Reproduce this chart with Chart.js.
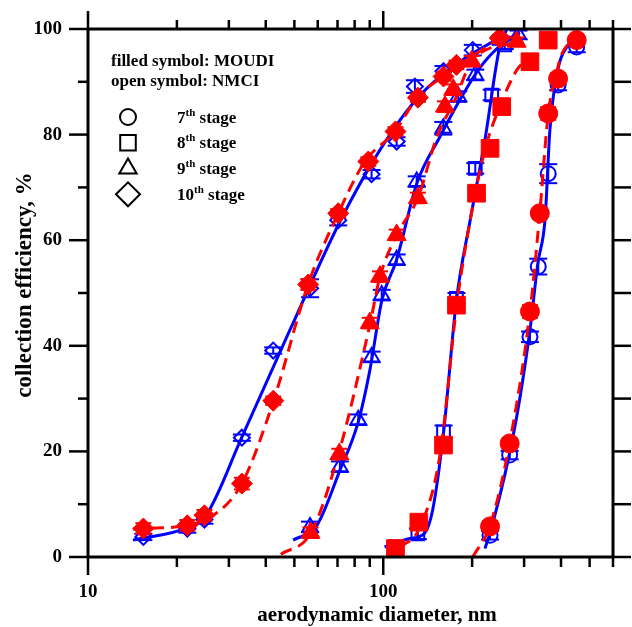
<!DOCTYPE html>
<html>
<head>
<meta charset="utf-8">
<script src="https://cdn.jsdelivr.net/npm/chart.js@4.4.0/dist/chart.umd.min.js"></script>
<style>
  html, body { margin: 0; padding: 0; background: #fff; }
</style>
</head>
<body>
<canvas id="c" width="632" height="627"></canvas>
<script>
// axis ticks (values) and which ones get a label / long tick
const xTicks = [10, 20, 30, 40, 50, 60, 70, 80, 90, 100, 200, 300, 400, 500, 600];
const xLabels = [10, 100];
const yTicks = [0, 10, 20, 30, 40, 50, 60, 70, 80, 90, 100];
const yLabels = [0, 20, 40, 60, 80, 100];

// 7th stage
const s7_nmci_x = [230, 268, 314, 335, 362, 391, 452];
const s7_nmci_y = [4.1, 19.3, 41.7, 55.0, 72.6, 89.4, 96.6];
const s7_nmci_err = [0.8, 0.8, 1.0, 1.5, 1.8, 1.0, 1.0];
const s7_moudi_x = [230, 268, 314, 339, 362, 391, 452];
const s7_moudi_y = [5.8, 21.5, 46.5, 65.1, 84.0, 90.6, 97.9];
const s7_moudi_err = [1.0, 1.0, 1.2, 1.0, 1.2, 1.0, 0.8];
const s7_nmci_fit_x = [221, 233, 279, 314, 334, 353, 367, 391, 419, 453];
const s7_nmci_fit_y = [1.6, 5.6, 24.6, 43.0, 55.7, 63.8, 81.1, 92.5, 96.6, 97.9];
const s7_moudi_fit_x = [201, 230, 268, 314, 339, 362, 382, 403, 436];
const s7_moudi_fit_y = [0, 6.0, 21.6, 46.4, 65.2, 83.9, 90.6, 95.3, 97.9];

// 8th stage
const s8_nmci_x = [110, 131, 160, 177, 205, 233, 258];
const s8_nmci_y = [1.9, 4.4, 23.7, 49.0, 73.6, 87.5, 97.0];
const s8_nmci_err = [0.8, 1.0, 1.2, 1.0, 1.0, 1.0, 0.8];
const s8_moudi_x = [110, 132, 160, 177, 207, 230, 252, 314, 362];
const s8_moudi_y = [1.6, 6.6, 21.2, 47.7, 68.9, 77.4, 85.3, 93.8, 97.9];
const s8_moudi_err = [0.6, 0.8, 1.0, 1.0, 1.0, 0.8, 0.8, 0.8, 0.6];
const s8_nmci_fit_x = [101, 123, 138, 147, 160, 177, 197, 221, 248, 262];
const s8_nmci_fit_y = [1.9, 3.5, 4.5, 8.9, 23.5, 48.7, 63.8, 79.0, 96.6, 99.9];
const s8_moudi_fit_x = [114, 133, 156, 177, 197, 221, 248, 284, 314];
const s8_moudi_fit_y = [1.8, 5.6, 19.7, 47.3, 63.8, 77.1, 85.3, 92.3, 94.6];

// 9th stage
const s9_nmci_x = [56.5, 71.3, 82.3, 91.3, 98.8, 111, 129.8, 159.7, 179.5, 205, 287];
const s9_nmci_y = [5.7, 17.1, 26.0, 37.9, 49.6, 56.3, 71.1, 81.2, 87.2, 91.3, 98.9];
const s9_nmci_err = [1.0, 1.0, 1.0, 1.0, 1.0, 1.0, 1.0, 1.2, 1.0, 1.0, 0.8];
const s9_moudi_x = [56.7, 71.0, 90.0, 97.5, 111, 131, 161.8, 172.6, 199.3, 283];
const s9_moudi_y = [4.6, 19.5, 44.3, 53.1, 61.0, 68.0, 85.3, 88.5, 93.9, 97.6];
const s9_moudi_err = [1.0, 1.0, 1.0, 1.0, 1.0, 1.0, 1.0, 1.0, 1.0, 0.8];
const s9_nmci_fit_x = [49.5, 59.6, 71.3, 82.2, 90.1, 99.0, 111, 130, 155.6, 181.9, 212.6, 258.3, 290.4];
const s9_nmci_fit_y = [3.2, 6.0, 16.4, 25.5, 35.4, 48.7, 56.3, 70.8, 79.6, 86.6, 92.7, 97.6, 99.3];
const s9_moudi_fit_x = [45.0, 56.9, 70.7, 90.0, 97.5, 111, 131, 152, 175, 199.3, 282.9];
const s9_moudi_fit_y = [0.5, 4.6, 19.7, 43.9, 53.1, 61.0, 68.0, 79.6, 86.6, 93.8, 97.6];

// 10th stage
const s10_nmci_x = [15.4, 21.7, 24.8, 33.2, 42.4, 56.5, 70.4, 91.3, 111, 128, 160, 201, 250];
const s10_nmci_y = [3.8, 5.4, 7.1, 22.6, 39.1, 50.9, 63.8, 72.5, 78.7, 89.1, 92.0, 96.0, 97.8];
const s10_nmci_err = [0.6, 0.8, 0.8, 0.6, 0.6, 1.7, 1.0, 0.8, 0.8, 1.2, 1.0, 1.0, 0.8];
const s10_moudi_x = [15.4, 21.7, 24.8, 33.2, 42.4, 55.7, 70.4, 89, 110, 131, 160, 177, 248];
const s10_moudi_y = [5.4, 6.0, 7.9, 13.9, 29.6, 51.6, 65.1, 74.9, 80.6, 87.0, 91.0, 93.2, 98.3];
const s10_moudi_err = [1.0, 1.0, 1.0, 1.1, 0.8, 1.0, 0.8, 0.8, 0.8, 0.8, 0.8, 0.8, 0.6];
const s10_nmci_fit_x = [14.2, 21.8, 25.1, 33.2, 48.3, 71.3, 97.5, 132, 182, 258];
const s10_nmci_fit_y = [3.2, 5.6, 7.9, 22.7, 43.0, 63.5, 77.1, 87.2, 93.8, 98.9];
const s10_moudi_fit_x = [14.2, 15.4, 21.6, 26.6, 33.2, 42.4, 55.7, 70.0, 86.7, 109.5, 131, 159.4, 182, 248];
const s10_moudi_fit_y = [5.3, 5.4, 6.0, 7.9, 13.9, 29.4, 51.7, 64.8, 74.9, 80.6, 87.2, 91.0, 93.3, 98.3];

const BLUE = "#0000ff";
const RED = "#ff0000";
const SERIF = '"Liberation Serif", "Times New Roman", serif';

function pts(xs, ys) {
	return xs.map((x, i) => ({ x: x, y: ys[i] }));
}

function markerSet(xs, ys, err, style, r, filled) {
	return {
		data: pts(xs, ys),
		errors: err,
		showLine: false,
		pointStyle: style,
		pointRadius: r,
		pointBorderWidth: filled ? 1 : 2,
		pointBorderColor: filled ? RED : BLUE,
		pointBackgroundColor: filled ? RED : "rgba(0,0,0,0)",
		errColor: filled ? RED : BLUE,
		errCap: filled ? 8 : 9,
	};
}

function fitSet(xs, ys, filled) {
	return {
		data: pts(xs, ys),
		showLine: true,
		pointRadius: 0,
		borderColor: filled ? RED : BLUE,
		borderWidth: 3,
		borderDash: filled ? [12, 7] : [],
		cubicInterpolationMode: "monotone",
	};
}

// first dataset is painted last (on top)
const datasets = [
	markerSet(s7_moudi_x, s7_moudi_y, s7_moudi_err, "circle", 9.5, true),
	markerSet(s8_moudi_x, s8_moudi_y, s8_moudi_err, "rect", 12.5, true),
	markerSet(s9_moudi_x, s9_moudi_y, s9_moudi_err, "triangle", 11, true),
	markerSet(s10_moudi_x, s10_moudi_y, s10_moudi_err, "rectRot", 10.5, true),
	fitSet(s7_moudi_fit_x, s7_moudi_fit_y, true),
	fitSet(s8_moudi_fit_x, s8_moudi_fit_y, true),
	fitSet(s9_moudi_fit_x, s9_moudi_fit_y, true),
	fitSet(s10_moudi_fit_x, s10_moudi_fit_y, true),
	markerSet(s7_nmci_x, s7_nmci_y, s7_nmci_err, "circle", 7.5, false),
	markerSet(s8_nmci_x, s8_nmci_y, s8_nmci_err, "rect", 9, false),
	markerSet(s9_nmci_x, s9_nmci_y, s9_nmci_err, "triangle", 9, false),
	markerSet(s10_nmci_x, s10_nmci_y, s10_nmci_err, "rectRot", 8, false),
	fitSet(s7_nmci_fit_x, s7_nmci_fit_y, false),
	fitSet(s8_nmci_fit_x, s8_nmci_fit_y, false),
	fitSet(s9_nmci_fit_x, s9_nmci_fit_y, false),
	fitSet(s10_nmci_fit_x, s10_nmci_fit_y, false),
];

function line(ctx, x1, y1, x2, y2) {
	ctx.beginPath();
	ctx.moveTo(x1, y1);
	ctx.lineTo(x2, y2);
	ctx.stroke();
}

const decor = {
	id: "decor",
	afterDatasetDraw(chart, args) {
		const ds = chart.data.datasets[args.index];
		if (!ds.errors) return;
		const ctx = chart.ctx;
		const y = chart.scales.y;
		ctx.save();
		ctx.strokeStyle = ds.errColor;
		ctx.lineWidth = 2;
		args.meta.data.forEach((p, i) => {
			const v = ds.data[i].y;
			const e = ds.errors[i];
			const top = y.getPixelForValue(v + e);
			const bot = y.getPixelForValue(v - e);
			line(ctx, p.x, top, p.x, bot);
			line(ctx, p.x - ds.errCap, top, p.x + ds.errCap, top);
			line(ctx, p.x - ds.errCap, bot, p.x + ds.errCap, bot);
		});
		ctx.restore();
	},
	afterDraw(chart) {
		const ctx = chart.ctx;
		const a = chart.chartArea;
		const xs = chart.scales.x;
		const ys = chart.scales.y;
		ctx.save();
		ctx.strokeStyle = "#000";
		ctx.lineWidth = 3;
		ctx.strokeRect(a.left, a.top, a.right - a.left, a.bottom - a.top);
		ctx.lineWidth = 2.5;
		xs.ticks.forEach((t) => {
			const px = xs.getPixelForValue(t.value);
			const big = xLabels.includes(t.value);
			line(ctx, px, a.bottom, px, a.bottom + (big ? 18 : 10));
			line(ctx, px, a.top, px, a.top - (big ? 18 : 9));
		});
		ys.ticks.forEach((t) => {
			const py = ys.getPixelForValue(t.value);
			const big = yLabels.includes(t.value);
			line(ctx, a.left - (big ? 19 : 10), py, a.left, py);
			line(ctx, a.right, py, a.right + 18, py);
		});

		// axis titles
		ctx.fillStyle = "#000";
		ctx.font = "bold 21px " + SERIF;
		ctx.textAlign = "center";
		ctx.textBaseline = "alphabetic";
		ctx.fillText("aerodynamic diameter, nm", 377, 621);
		ctx.save();
		ctx.translate(31, 285);
		ctx.rotate(-Math.PI / 2);
		ctx.font = "bold 23px " + SERIF;
		ctx.fillText("collection efficiency, %", 0, 0);
		ctx.restore();

		// legend
		ctx.textAlign = "left";
		ctx.font = "bold 17px " + SERIF;
		ctx.fillText("filled symbol: MOUDI", 111, 66);
		ctx.fillText("open symbol: NMCI", 111, 86);
		const rows = [
			["7", "circle", 8, 117, 122.5],
			["8", "rect", 11, 142.7, 148],
			["9", "triangle", 10, 168.5, 173.5],
			["10", "rectRot", 12, 194.3, 199.5],
		];
		rows.forEach((r) => {
			ctx.save();
			ctx.strokeStyle = "#000";
			ctx.fillStyle = "rgba(0,0,0,0)";
			ctx.lineWidth = 2;
			Chart.helpers.drawPoint(ctx, { pointStyle: r[1], radius: r[2], borderWidth: 2, rotation: 0 }, 128, r[3]);
			ctx.restore();
			ctx.fillStyle = "#000";
			ctx.font = "bold 17px " + SERIF;
			let x = 177;
			ctx.fillText(r[0], x, r[4]);
			x += ctx.measureText(r[0]).width;
			ctx.font = "bold 11px " + SERIF;
			ctx.fillText("th", x, r[4] - 7);
			x += ctx.measureText("th").width;
			ctx.font = "bold 17px " + SERIF;
			ctx.fillText(" stage", x, r[4]);
		});
		ctx.restore();
	},
};

new Chart(document.getElementById("c"), {
	type: "scatter",
	data: { datasets: datasets },
	plugins: [decor],
	options: {
		responsive: false,
		animation: false,
		events: [],
		layout: { padding: { left: 0, top: 29, right: 19, bottom: 0 } },
		plugins: {
			legend: { display: false },
			tooltip: { enabled: false },
		},
		scales: {
			x: {
				type: "logarithmic",
				position: "bottom",
				min: 10,
				max: 600,
				afterBuildTicks: (s) => {
					s.ticks = xTicks.map((v) => ({ value: v }));
				},
				afterFit: (s) => {
					s.height = 70;
					s.paddingLeft = 0;
					s.paddingRight = 0;
				},
				grid: { display: false, drawTicks: false },
				border: { display: false },
				ticks: {
					autoSkip: false,
					maxRotation: 0,
					padding: 24,
					color: "#000",
					font: { family: SERIF, size: 19, weight: "bold" },
					callback: (v) => (xLabels.includes(v) ? String(v) : ""),
				},
			},
			y: {
				min: 0,
				max: 100,
				afterBuildTicks: (s) => {
					s.ticks = yTicks.map((v) => ({ value: v }));
				},
				afterFit: (s) => {
					s.width = 88;
					s.paddingTop = 0;
					s.paddingBottom = 0;
				},
				grid: { display: false, drawTicks: false },
				border: { display: false },
				ticks: {
					autoSkip: false,
					padding: 26,
					color: "#000",
					font: { family: SERIF, size: 19, weight: "bold" },
					callback: (v) => (yLabels.includes(v) ? String(v) : ""),
				},
			},
		},
	},
});
</script>
</body>
</html>
